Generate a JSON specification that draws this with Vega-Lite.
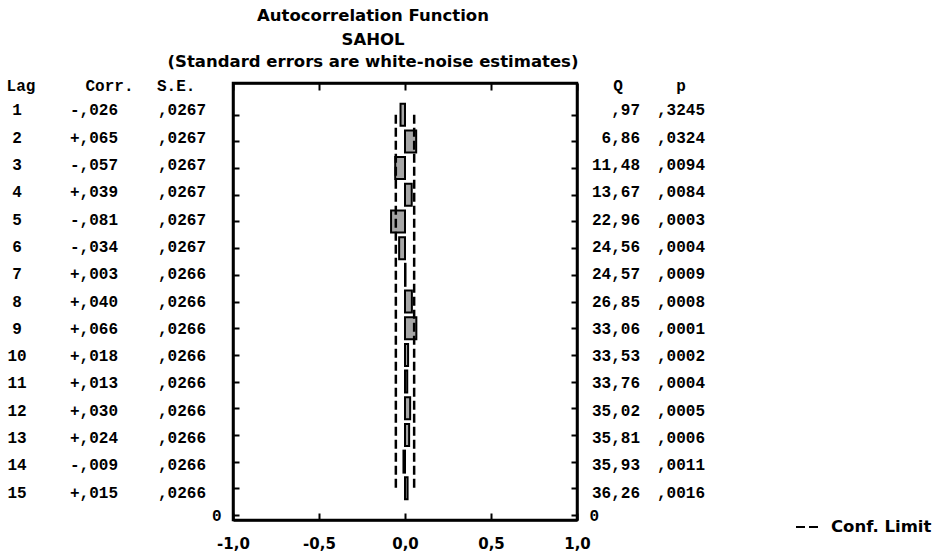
{
  "$schema": "https://vega.github.io/schema/vega-lite/v6.json",
  "background": "white",
  "padding": {"left": 0, "top": 6, "right": 0, "bottom": 0},
  "bounds": "flush",
  "spacing": 0,
  "config": {
    "view": {"stroke": null},
    "axis": {"domain": true, "domainColor": "black", "tickColor": "black", "labelColor": "black", "grid": false, "domainWidth": 2.5, "tickWidth": 2},
    "text": {"font": "Liberation Mono", "fontSize": 16, "fontWeight": "bold", "color": "black"}
  },
  "resolve": {"scale": {"x": "independent", "y": "independent"}},
  "datasets": {
    "acf": [
      {"lag": 1, "corr": -0.026, "se": 0.0267, "lcl": -0.0534, "ucl": 0.0534, "corr_txt": "-,026", "se_txt": ",0267", "q_txt": ",97", "p_txt": ",3245"},
      {"lag": 2, "corr": 0.065, "se": 0.0267, "lcl": -0.0534, "ucl": 0.0534, "corr_txt": "+,065", "se_txt": ",0267", "q_txt": "6,86", "p_txt": ",0324"},
      {"lag": 3, "corr": -0.057, "se": 0.0267, "lcl": -0.0534, "ucl": 0.0534, "corr_txt": "-,057", "se_txt": ",0267", "q_txt": "11,48", "p_txt": ",0094"},
      {"lag": 4, "corr": 0.039, "se": 0.0267, "lcl": -0.0534, "ucl": 0.0534, "corr_txt": "+,039", "se_txt": ",0267", "q_txt": "13,67", "p_txt": ",0084"},
      {"lag": 5, "corr": -0.081, "se": 0.0267, "lcl": -0.0534, "ucl": 0.0534, "corr_txt": "-,081", "se_txt": ",0267", "q_txt": "22,96", "p_txt": ",0003"},
      {"lag": 6, "corr": -0.034, "se": 0.0267, "lcl": -0.0534, "ucl": 0.0534, "corr_txt": "-,034", "se_txt": ",0267", "q_txt": "24,56", "p_txt": ",0004"},
      {"lag": 7, "corr": 0.003, "se": 0.0266, "lcl": -0.0532, "ucl": 0.0532, "corr_txt": "+,003", "se_txt": ",0266", "q_txt": "24,57", "p_txt": ",0009"},
      {"lag": 8, "corr": 0.04, "se": 0.0266, "lcl": -0.0532, "ucl": 0.0532, "corr_txt": "+,040", "se_txt": ",0266", "q_txt": "26,85", "p_txt": ",0008"},
      {"lag": 9, "corr": 0.066, "se": 0.0266, "lcl": -0.0532, "ucl": 0.0532, "corr_txt": "+,066", "se_txt": ",0266", "q_txt": "33,06", "p_txt": ",0001"},
      {"lag": 10, "corr": 0.018, "se": 0.0266, "lcl": -0.0532, "ucl": 0.0532, "corr_txt": "+,018", "se_txt": ",0266", "q_txt": "33,53", "p_txt": ",0002"},
      {"lag": 11, "corr": 0.013, "se": 0.0266, "lcl": -0.0532, "ucl": 0.0532, "corr_txt": "+,013", "se_txt": ",0266", "q_txt": "33,76", "p_txt": ",0004"},
      {"lag": 12, "corr": 0.03, "se": 0.0266, "lcl": -0.0532, "ucl": 0.0532, "corr_txt": "+,030", "se_txt": ",0266", "q_txt": "35,02", "p_txt": ",0005"},
      {"lag": 13, "corr": 0.024, "se": 0.0266, "lcl": -0.0532, "ucl": 0.0532, "corr_txt": "+,024", "se_txt": ",0266", "q_txt": "35,81", "p_txt": ",0006"},
      {"lag": 14, "corr": -0.009, "se": 0.0266, "lcl": -0.0532, "ucl": 0.0532, "corr_txt": "-,009", "se_txt": ",0266", "q_txt": "35,93", "p_txt": ",0011"},
      {"lag": 15, "corr": 0.015, "se": 0.0266, "lcl": -0.0532, "ucl": 0.0532, "corr_txt": "+,015", "se_txt": ",0266", "q_txt": "36,26", "p_txt": ",0016"}
    ],
    "headL": [{"h": "Lag"}],
    "headC": [{"h": "Corr."}],
    "headS": [{"h": "S.E."}],
    "headQ": [{"h": "Q"}],
    "headP": [{"h": "p"}]
  },
  "hconcat": [
    {
      "width": 233,
      "height": 437,
      "layer": [
        {
          "data": {"name": "acf"},
          "mark": {"type": "text", "align": "center", "dx": 17},
          "encoding": {
            "x": {"datum": "Lag", "type": "nominal", "scale": {"type": "point", "domain": ["Lag", "Corr", "SE"], "padding": 0}, "axis": null},
            "y": {"field": "lag", "type": "quantitative", "scale": {"domain": [0, 16], "reverse": true, "nice": false}, "axis": null},
            "text": {"field": "lag", "type": "quantitative"}
          }
        },
        {
          "data": {"name": "acf"},
          "mark": {"type": "text", "align": "right", "dx": 1.5},
          "encoding": {
            "x": {"datum": "Corr", "type": "nominal"},
            "y": {"field": "lag", "type": "quantitative"},
            "text": {"field": "corr_txt", "type": "nominal"}
          }
        },
        {
          "data": {"name": "acf"},
          "mark": {"type": "text", "align": "right", "dx": -27},
          "encoding": {
            "x": {"datum": "SE", "type": "nominal"},
            "y": {"field": "lag", "type": "quantitative"},
            "text": {"field": "se_txt", "type": "nominal"}
          }
        },
        {
          "data": {"name": "headL"},
          "mark": {"type": "text", "align": "center", "dx": 21, "baseline": "middle", "dy": 3},
          "encoding": {
            "x": {"datum": "Lag", "type": "nominal"},
            "y": {"datum": 0, "type": "quantitative"},
            "text": {"field": "h", "type": "nominal"}
          }
        },
        {
          "data": {"name": "headC"},
          "mark": {"type": "text", "align": "left", "dx": -31, "baseline": "middle", "dy": 3},
          "encoding": {
            "x": {"datum": "Corr", "type": "nominal"},
            "y": {"datum": 0, "type": "quantitative"},
            "text": {"field": "h", "type": "nominal"}
          }
        },
        {
          "data": {"name": "headS"},
          "mark": {"type": "text", "align": "left", "dx": -76, "baseline": "middle", "dy": 3},
          "encoding": {
            "x": {"datum": "SE", "type": "nominal"},
            "y": {"datum": 0, "type": "quantitative"},
            "text": {"field": "h", "type": "nominal"}
          }
        }
      ]
    },
    {
      "width": 344,
      "height": 437,
      "view": {"stroke": "black", "strokeWidth": 2.5},
      "title": {
        "text": "Autocorrelation Function",
        "subtitle": ["SAHOL", "(Standard errors are white-noise estimates)"],
        "font": "DejaVu Sans",
        "fontSize": 16.5,
        "fontWeight": "bold",
        "color": "black",
        "subtitleFont": "DejaVu Sans",
        "subtitleFontSize": 16.5,
        "subtitleFontWeight": "bold",
        "subtitleColor": "black",
        "subtitleLineHeight": 22,
        "subtitlePadding": 7,
        "anchor": "middle",
        "dx": -32,
        "offset": 12
      },
      "data": {"name": "acf"},
      "resolve": {"axis": {"x": "independent", "y": "independent"}},
      "layer": [
        {
          "mark": {"type": "bar", "height": 22, "fill": "#a6a6a6", "stroke": "black", "strokeWidth": 2},
          "encoding": {
            "x": {
              "field": "corr", "type": "quantitative",
              "scale": {"domain": [-1, 1], "nice": false, "zero": false},
              "axis": {
                "orient": "bottom", "values": [-1, -0.5, 0, 0.5, 1], "title": null, "domain": true,
                "labelExpr": "replace(replace(format(datum.value, '.1f'), '.', ','), '\u2212', '-')",
                "labelFont": "DejaVu Sans", "labelFontWeight": "bold", "labelFontSize": 15,
                "tickSize": -7, "labelPadding": 23, "labelFlush": false
              }
            },
            "x2": {"datum": 0},
            "y": {
              "field": "lag", "type": "quantitative",
              "scale": {"domain": [0, 16], "reverse": true, "nice": false},
              "axis": {
                "orient": "left", "values": [1, 2, 3, 4, 5, 6, 7, 8, 9, 10, 11, 12, 13, 14, 15, 16], "title": null, "domain": true,
                "labelExpr": "datum.value == 16 ? '0' : ''",
                "labelFont": "Liberation Mono", "labelFontSize": 16, "labelFontWeight": "bold",
                "tickSize": -6, "labelPadding": 18
              }
            }
          }
        },
        {
          "mark": {"type": "line", "stroke": "black", "strokeWidth": 2.5},
          "encoding": {
            "x": {
              "field": "lcl", "type": "quantitative",
              "axis": {"orient": "top", "values": [-1, -0.5, 0, 0.5, 1], "title": null, "labels": false, "tickSize": -7, "domain": true}
            },
            "y": {
              "field": "lag", "type": "quantitative",
              "axis": {
                "orient": "right", "values": [1, 2, 3, 4, 5, 6, 7, 8, 9, 10, 11, 12, 13, 14, 15, 16], "title": null, "domain": true,
                "labelExpr": "datum.value == 16 ? '0' : ''",
                "labelFont": "Liberation Mono", "labelFontSize": 16, "labelFontWeight": "bold",
                "tickSize": -6, "labelPadding": 18
              }
            },
            "order": {"field": "lag", "type": "quantitative"},
            "strokeDash": {
              "datum": "Conf. Limit", "type": "nominal",
              "scale": {"range": [[9, 4]]},
              "legend": {
                "orient": "none", "legendX": 795, "legendY": 432, "title": null,
                "symbolType": "stroke", "symbolStrokeWidth": 2, "symbolSize": 484, "symbolStrokeColor": "black",
                "labelFont": "DejaVu Sans", "labelFontWeight": "bold", "labelFontSize": 16.5, "labelColor": "black",
                "labelOffset": 12, "padding": 0
              }
            }
          }
        },
        {
          "mark": {"type": "line", "stroke": "black", "strokeWidth": 2.5},
          "encoding": {
            "x": {"field": "ucl", "type": "quantitative", "axis": null},
            "y": {"field": "lag", "type": "quantitative", "axis": null},
            "order": {"field": "lag", "type": "quantitative"},
            "strokeDash": {"datum": "Conf. Limit", "type": "nominal"}
          }
        }
      ]
    },
    {
      "width": 140,
      "height": 437,
      "layer": [
        {
          "data": {"name": "acf"},
          "mark": {"type": "text", "align": "right", "dx": 63},
          "encoding": {
            "x": {"datum": "Q", "type": "nominal", "scale": {"type": "point", "domain": ["Q", "p"], "padding": 0}, "axis": null},
            "y": {"field": "lag", "type": "quantitative", "scale": {"domain": [0, 16], "reverse": true, "nice": false}, "axis": null},
            "text": {"field": "q_txt", "type": "nominal"}
          }
        },
        {
          "data": {"name": "acf"},
          "mark": {"type": "text", "align": "right", "dx": -12},
          "encoding": {
            "x": {"datum": "p", "type": "nominal"},
            "y": {"field": "lag", "type": "quantitative"},
            "text": {"field": "p_txt", "type": "nominal"}
          }
        },
        {
          "data": {"name": "headQ"},
          "mark": {"type": "text", "align": "center", "dx": 41, "baseline": "middle", "dy": 3},
          "encoding": {
            "x": {"datum": "Q", "type": "nominal"},
            "y": {"datum": 0, "type": "quantitative"},
            "text": {"field": "h", "type": "nominal"}
          }
        },
        {
          "data": {"name": "headP"},
          "mark": {"type": "text", "align": "center", "dx": -36, "baseline": "middle", "dy": 3},
          "encoding": {
            "x": {"datum": "p", "type": "nominal"},
            "y": {"datum": 0, "type": "quantitative"},
            "text": {"field": "h", "type": "nominal"}
          }
        }
      ]
    }
  ]
}
